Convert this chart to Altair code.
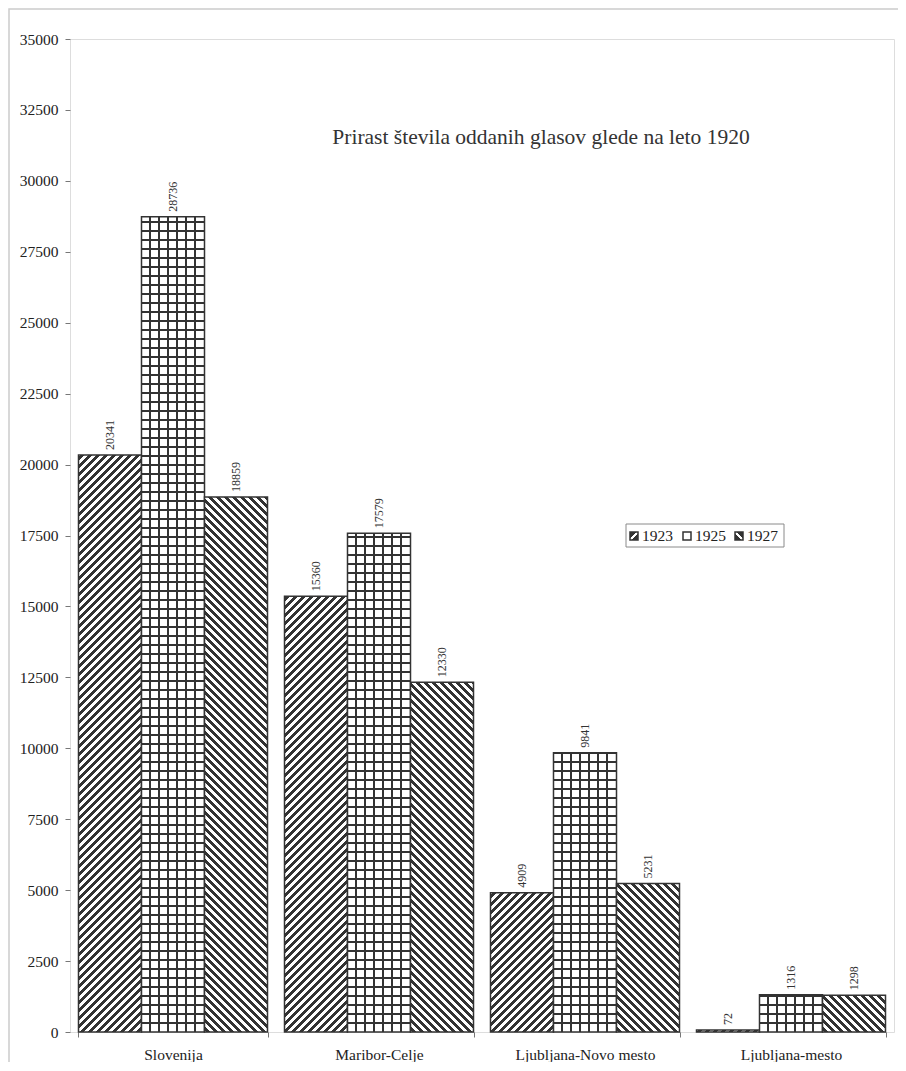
import altair as alt
import pandas as pd

# ---------------- data ----------------
regions = ["Slovenija", "Maribor-Celje", "Ljubljana-Novo mesto", "Ljubljana-mesto"]
years = ["1923", "1925", "1927"]
v1923 = [20341, 15360, 4909, 72]
v1925 = [28736, 17579, 9841, 1316]
v1927 = [18859, 12330, 5231, 1298]
y_ticks = list(range(0, 35001, 2500))
title_text = "Prirast števila oddanih glasov glede na leto 1920"

# ---------------- layout / style ----------------
W_PLOT, H_PLOT = 824, 993
Y_MAX = 35000
P_INNER = 0.0825
SERIF = "Liberation Serif"
INK = "#333333"
PAPER = "#ffffff"
CLEAR = "rgba(255,255,255,0)"

rows = []
for yr, vals in zip(years, [v1923, v1925, v1927]):
    for r, v in zip(regions, vals):
        rows.append({"region": r, "year": yr, "value": v})
df = pd.DataFrame(rows)
one = pd.DataFrame({"k": [0]})

step = W_PLOT / len(regions)
bar_w = step * (1 - P_INNER) / len(years)


def line_stops(length, centers, width, ink, gap):
    stops = [{"offset": 0.0, "color": gap}]
    for c in sorted(centers):
        a = min(max((c - width / 2) / length, 0.0), 1.0)
        b = min(max((c + width / 2) / length, 0.0), 1.0)
        if b <= 0 or a >= 1:
            continue
        a, b = round(a, 5), round(b, 5)
        stops += [{"offset": a, "color": gap}, {"offset": a, "color": ink},
                  {"offset": b, "color": ink}, {"offset": b, "color": gap}]
    stops.append({"offset": 1.0, "color": gap})
    return stops


def diag_grad(W, H, forward, period=8.0, width=4.0, ink=INK, gap=PAPER, centers=None):
    L = W + H
    k = L / (W * W + H * H)
    a, b = W * k, H * k
    if centers is None:
        centers = []
        c = period / 2
        while c < L + period:
            centers.append(c)
            c += period
    stops = line_stops(L, centers, width, ink, gap)
    if forward:
        return {"gradient": "linear", "x1": 0, "y1": 0, "x2": round(a, 6), "y2": round(b, 6), "stops": stops}
    return {"gradient": "linear", "x1": 0, "y1": 1, "x2": round(a, 6), "y2": round(1 - b, 6), "stops": stops}


def hlines_grad(H, period=9.0, width=2.0):
    centers = []
    c = H - period
    while c > -period:
        centers.append(c)
        c -= period
    return {"gradient": "linear", "x1": 0, "y1": 0, "x2": 0, "y2": 1,
            "stops": line_stops(H, centers, width, INK, PAPER)}


def vlines_grad(W, period=9.0, width=2.0):
    centers = []
    c = period
    while c < W - 1:
        centers.append(c)
        c += period
    return {"gradient": "linear", "x1": 0, "y1": 0, "x2": 1, "y2": 0,
            "stops": line_stops(W, centers, width, INK, CLEAR)}


x_enc = alt.X("region:N", sort=regions,
              scale=alt.Scale(domain=regions, paddingInner=P_INNER, paddingOuter=P_INNER / 2),
              axis=alt.Axis(title=None, labelAngle=0, tickBand="extent", tickSize=5,
                            labelPadding=10, domain=False, grid=False,
                            labelFont=SERIF, labelFontSize=15.5, labelColor="#222",
                            tickColor="#777"))
xo_enc = alt.XOffset("year:N", sort=years,
                     scale=alt.Scale(domain=years, paddingInner=0, paddingOuter=0))
y_enc = alt.Y("value:Q", scale=alt.Scale(domain=[0, Y_MAX], nice=False, zero=True),
              axis=alt.Axis(title=None, values=y_ticks, format="d", tickSize=5,
                            labelPadding=7, domain=False, grid=False,
                            labelFont=SERIF, labelFontSize=15.5, labelColor="#222",
                            tickColor="#777"))

base = alt.Chart(df).encode(x=x_enc, xOffset=xo_enc, y=y_enc)

layers = []

# outer light border of the page-chart
layers.append(alt.Chart(one).mark_rect(filled=False, stroke="#cccccc", strokeWidth=1.5).encode(
    x=alt.value(-61), x2=alt.value(W_PLOT + 60), y=alt.value(-30), y2=alt.value(H_PLOT + 80)))

for yr, vals in zip(years, [v1923, v1925, v1927]):
    for r, v in zip(regions, vals):
        H = max(v / Y_MAX * H_PLOT, 0.5)
        sel = base.transform_filter((alt.datum.region == r) & (alt.datum.year == yr))
        if yr == "1925":
            layers.append(sel.mark_bar(fill=hlines_grad(H), strokeWidth=0))
            layers.append(sel.mark_bar(fill=vlines_grad(bar_w), stroke=INK, strokeWidth=1.5))
        else:
            layers.append(sel.mark_bar(fill=diag_grad(bar_w, H, forward=(yr == "1923")),
                                       stroke=INK, strokeWidth=1.5))

# value labels
layers.append(base.mark_text(angle=270, align="left", baseline="middle", dx=5,
                             font=SERIF, fontSize=12, color=INK).encode(
    text=alt.Text("value:Q", format="d")))

# title inside plot
layers.append(alt.Chart(one).mark_text(font=SERIF, fontSize=21.5, color=INK, align="center",
                                       baseline="alphabetic").encode(
    x=alt.value(471), y=alt.value(105), text=alt.value(title_text)))

# legend
layers.append(alt.Chart(one).mark_rect(filled=False, stroke="#8a8a8a", strokeWidth=1).encode(
    x=alt.value(556), x2=alt.value(714), y=alt.value(485), y2=alt.value(508)))
sq_x = [560, 613, 665]
for yr, sx in zip(years, sq_x):
    if yr == "1925":
        fill = PAPER
    else:
        fill = diag_grad(8, 8, forward=(yr == "1923"), width=3.5, ink=PAPER, gap=INK, centers=[8])
    layers.append(alt.Chart(one).mark_rect(fill=fill, stroke=INK, strokeWidth=1.5).encode(
        x=alt.value(sx), x2=alt.value(sx + 8), y=alt.value(493), y2=alt.value(501)))
    layers.append(alt.Chart(one).mark_text(font=SERIF, fontSize=15.5, color="#222", align="left",
                                           baseline="alphabetic").encode(
        x=alt.value(sx + 12), y=alt.value(502), text=alt.value(yr)))

chart = alt.layer(*layers).properties(
    width=W_PLOT, height=H_PLOT,
    autosize=alt.AutoSizeParams(type="none"),
    padding={"left": 62, "top": 31, "right": 4, "bottom": 30},
).configure_view(stroke="#6a6a6a", strokeWidth=1).configure(background="white")

chart.save("out.html", embed_options={"renderer": "svg", "actions": False})
